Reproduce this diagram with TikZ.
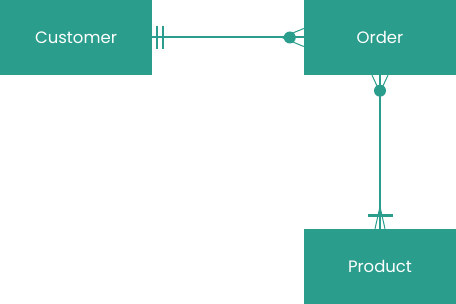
\documentclass[tikz,border=0pt]{standalone}
\usepackage{fontspec}
\setmainfont{Poppins}
\usepackage{xcolor}
\definecolor{erteal}{RGB}{42,157,140}

\begin{document}
\begin{tikzpicture}[x=1pt,y=-1pt,
  entity/.style={fill=erteal,text=white,minimum width=152pt,minimum height=75pt,inner sep=0pt,font=\fontsize{16.5}{19}\selectfont},
  rel/.style={draw=erteal,line width=2pt},
  foot/.style={draw=erteal,line width=1pt}]
\useasboundingbox (0,0) rectangle (456,304);
\node[entity] (cust) at (76,37.5) {Customer};
\node[entity] (ord) at (380,37.5) {Order};
\node[entity] (prod) at (380,266.5) {Product};
% customer -- order
\draw[rel] (cust.east)--(ord.west);
\draw[rel] ([xshift=5pt,yshift=11.5pt]cust.east)--([xshift=5pt,yshift=-11.5pt]cust.east);
\draw[rel] ([xshift=10.5pt,yshift=11.5pt]cust.east)--([xshift=10.5pt,yshift=-11.5pt]cust.east);
\draw[foot] ([yshift=9pt]ord.west)--([xshift=-22pt]ord.west)--([yshift=-9pt]ord.west);
\fill[erteal] ([xshift=-14pt]ord.west) circle (6pt);
% order -- product
\draw[rel] (ord.south)--(prod.north);
\draw[foot] ([xshift=-8pt]ord.south)--([yshift=-17pt]ord.south)--([xshift=8pt]ord.south);
\fill[erteal] ([yshift=-15.5pt]ord.south) circle (6pt);
\draw[rel,line width=3pt] ([xshift=-12.5pt,yshift=13.5pt]prod.north)--([xshift=12.5pt,yshift=13.5pt]prod.north);
\draw[foot] ([xshift=-5pt]prod.north)--([yshift=22pt]prod.north)--([xshift=5pt]prod.north);
\end{tikzpicture}
\end{document}
